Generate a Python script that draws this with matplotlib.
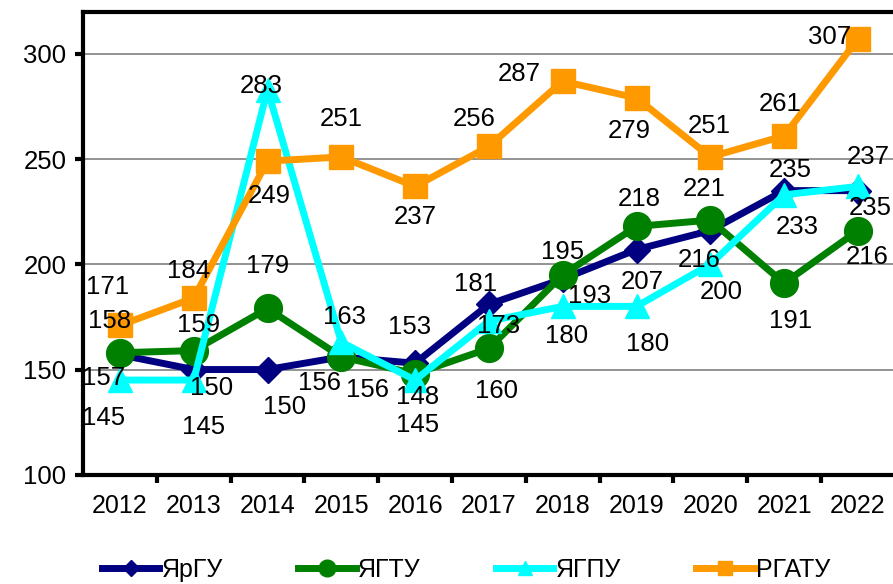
import matplotlib
matplotlib.use("Agg")
import matplotlib.pyplot as plt
from matplotlib.ticker import FixedLocator

plt.rcParams['font.family'] = ['Liberation Sans', 'DejaVu Sans']

years = [2012, 2013, 2014, 2015, 2016, 2017, 2018, 2019, 2020, 2021, 2022]
yargu = [157, 150, 150, 156, 153, 181, 193, 207, 216, 235, 235]
yagtu = [158, 159, 179, 156, 148, 160, 195, 218, 221, 191, 216]
yagpu = [145, 145, 283, 163, 145, 173, 180, 180, 200, 233, 237]
rgatu = [171, 184, 249, 251, 237, 256, 287, 279, 251, 261, 307]

# смещения подписей в пикселях (dx, dy), dy вверх
off_yargu = [(-16, -23), (18, -18), (17, -37), (-22, -26), (-6, 36), (-13, 20),
             (27, -17), (6, -32), (-11, -29), (6, 21), (12, -17)]
off_yagtu = [(-10, 32), (5, 26), (0, 42), (26, -33), (2, -23), (8, -43),
             (0, 23), (3, 27), (-6, 31), (6, -38), (9, -26)]
off_yagpu = [(-16, -38), (10, -47), (-6, 4), (3, 25), (2, -45), (10, -5),
             (4, -30), (11, -38), (11, -28), (13, -32), (10, 29)]
off_rgatu = [(-12, 38), (-5, 27), (2, -35), (0, 38), (0, -31), (-15, 27),
             (-43, 7), (-7, -33), (-1, 31), (-4, 32), (-28, 2)]

series = [
    ('ЯрГУ', yargu, off_yargu, '#000080', 'D', 13),
    ('ЯГТУ', yagtu, off_yagtu, '#008000', 'o', 20),
    ('ЯГПУ', yagpu, off_yagpu, '#00FFFF', '^', 17),
    ('РГАТУ', rgatu, off_rgatu, '#FF9900', 's', 17),
]

fig = plt.figure(figsize=(8.93, 5.84), dpi=100)
ax = fig.add_axes([0.093, 0.187, 0.909, 0.793])

for name, vals, offs, color, marker, ms in series:
    ax.plot(years, vals, color=color, lw=5, marker=marker, markersize=ms,
            label=name, clip_on=False)

for name, vals, offs, color, marker, ms in series:
    for x, v, (dx, dy) in zip(years, vals, offs):
        ax.annotate(str(v), (x, v), xytext=(dx, dy), textcoords='offset pixels',
                    ha='center', va='center', fontsize=18.5, annotation_clip=False)

ax.set_xlim(2011.5, 2022.5)
ax.set_ylim(100, 320)
ax.set_yticks([100, 150, 200, 250, 300])
ax.set_xticks(years)
ax.xaxis.set_minor_locator(FixedLocator([y + 0.5 for y in years[:-1]]))
ax.tick_params(axis='x', which='major', length=0, pad=14, labelsize=18)
ax.tick_params(axis='x', which='minor', length=6, width=3)
ax.tick_params(axis='y', length=6, width=3, labelsize=18.5, pad=6)
ax.grid(axis='y', color='#808080', lw=1.2)
ax.set_axisbelow(True)
for s in ['left', 'top', 'bottom']:
    ax.spines[s].set_linewidth(3)
ax.spines['right'].set_visible(False)

fig.legend(loc='lower center', bbox_to_anchor=(0.522, -0.035), ncol=4, frameon=False,
           fontsize=18, handlelength=2.3, markerscale=0.6, columnspacing=3.0,
           handletextpad=0.1)

plt.savefig('out.png', dpi=100)
